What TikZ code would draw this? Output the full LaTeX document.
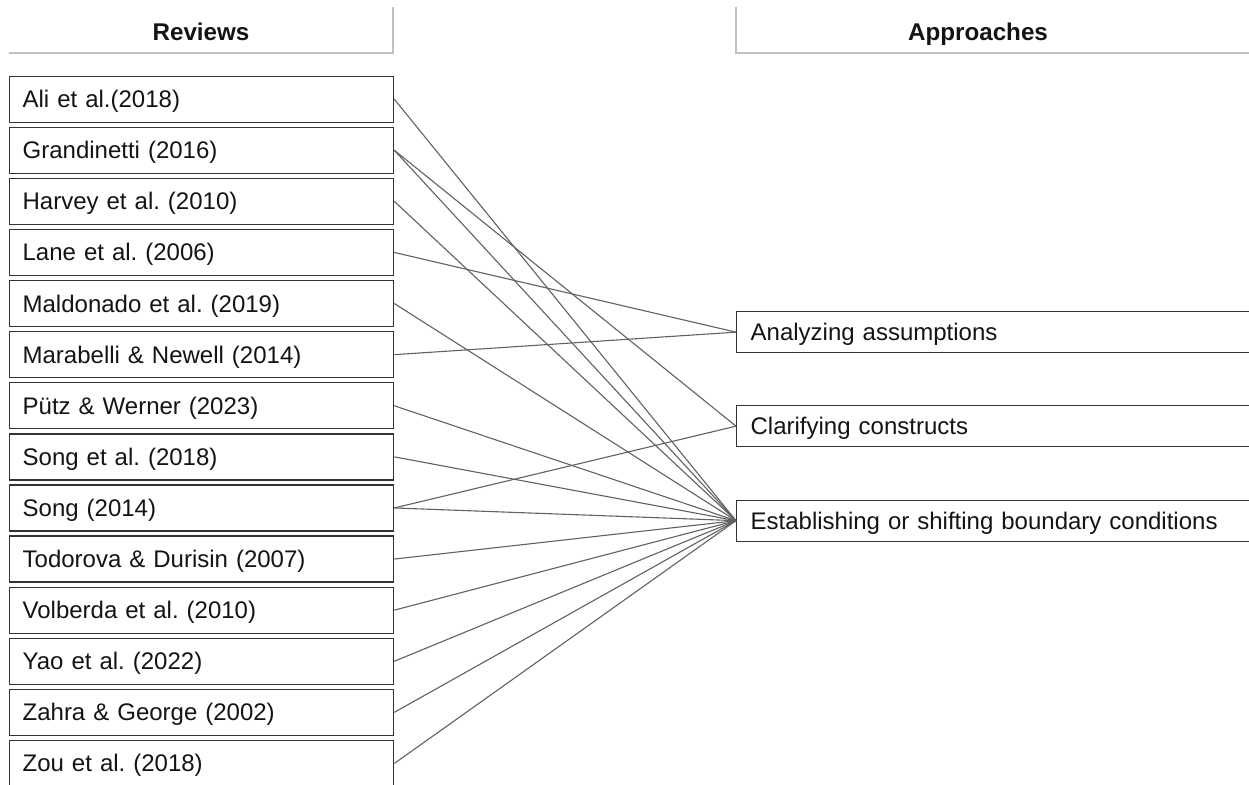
\documentclass[tikz,border=0pt]{standalone}
\usepackage{fontspec}
\setmainfont{Liberation Sans}
\begin{document}
\frenchspacing
\begin{tikzpicture}[x=1pt,y=-1pt,
  txt/.style={font=\fontsize{24}{28}\selectfont\frenchspacing, text=black!92},
  review/.style={txt, draw=black!80, line width=1.3pt, rectangle, minimum height=46pt,
    text width=358pt, inner xsep=13pt, inner ysep=0pt, align=left, anchor=north west,
    text height=17pt, text depth=0pt},
  approach/.style={txt, draw=black!80, line width=1.3pt, rectangle, minimum height=41pt,
    text width=512pt, inner xsep=14pt, inner ysep=0pt, align=left, anchor=north west,
    text height=17pt, text depth=0pt},
  header/.style={txt, font=\fontsize{24.2}{28}\selectfont\bfseries, text height=17pt, text depth=0pt, inner sep=0pt},
  hdrline/.style={draw=black!25, line width=1.2pt},
  conn/.style={draw=black!62, line width=1.1pt}]
\useasboundingbox (0,0) rectangle (1249,784);
\fill[white] (0,0) rectangle (1249,784);

% headers
\node[header] (hr) at (201,32) {Reviews};
\node[header] (ha) at (978,32) {Approaches};
\draw[hdrline] (9,53) -- (393,53) -- (393,7);
\draw[hdrline] (736,7) -- (736,53) -- (1249,53);

% review boxes
\foreach \t [count=\i] in {Ali et al.(2018), Grandinetti (2016), Harvey et al. (2010),
    Lane et al. (2006), Maldonado et al. (2019), Marabelli \& Newell (2014),
    Pütz \& Werner (2023), Song et al. (2018), Song (2014), Todorova \& Durisin (2007),
    Volberda et al. (2010), Yao et al. (2022), Zahra \& George (2002), Zou et al. (2018)}
  \node[review] (r\i) at (9,{75.5+51.1*(\i-1)}) {\t};

% approach boxes
\node[approach] (a) at (736,311) {Analyzing assumptions};
\node[approach] (c) at (736,405) {Clarifying constructs};
\node[approach] (e) at (736,499.5) {Establishing or shifting boundary conditions};

% connectors
\foreach \i in {1,2,3,5,7,8,9,10,11,12,13,14}
  \draw[conn] (r\i.east) -- (e.west);
\draw[conn] (r4.east) -- (a.west);
\draw[conn] (r6.east) -- (a.west);
\draw[conn] (r2.east) -- (c.west);
\draw[conn] (r9.east) -- (c.west);
\end{tikzpicture}
\end{document}
